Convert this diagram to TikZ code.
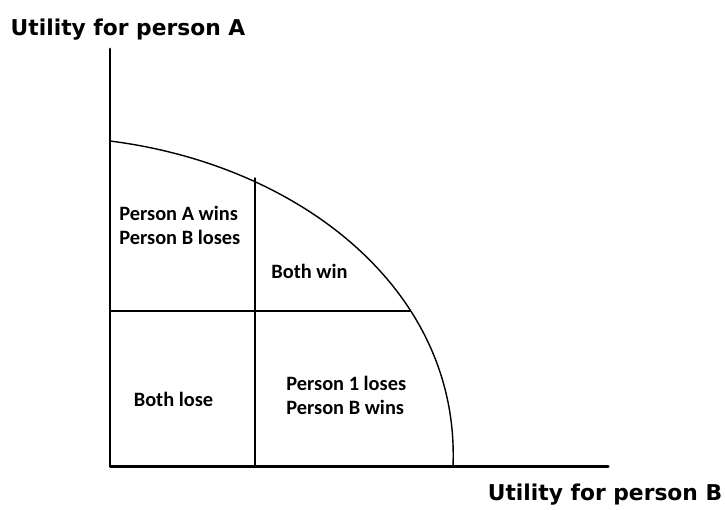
\documentclass[tikz,border=0pt]{standalone}
\usepackage{fontspec}
\setmainfont{Carlito}
\newfontfamily\axisfont{DejaVu Sans}
\begin{document}
\begin{tikzpicture}[scale=1, line join=round, line cap=round,
  axislabel/.style={font=\axisfont\bfseries\fontsize{12.4}{14}\selectfont, inner sep=0pt},
  region/.style={font=\bfseries\fontsize{11.6}{13.6}\selectfont, align=left, inner sep=0pt}]
\useasboundingbox (0,0) rectangle (14.5,10.18);
% axes
\draw[line width=1.7pt] (2.2,9.2) -- (2.2,0.86) -- (12.16,0.86);
% frontier
\draw[line width=0.8pt] (2.2,7.36) .. controls (6.0,6.88) and (9.2,4.38) .. (9.06,0.86);
% dividers
\draw[line width=0.8pt] (5.1,0.86) -- (5.1,6.62);
\draw[line width=0.8pt] (2.2,3.96) -- (8.2,3.96);
\node[axislabel] (ua) at (2.56,9.58) {Utility for person A};
\node[axislabel] (ub) at (12.1,0.28) {Utility for person B};
\node[region, anchor=west] (awin) at (2.38,5.68) {Person A wins\\Person B loses};
\node[region] (bothwin) at (6.19,4.76) {Both win};
\node[region] (bothlose) at (3.47,2.2) {Both lose};
\node[region, anchor=west] (bwin) at (5.72,2.28) {Person 1 loses\\Person B wins};
\end{tikzpicture}
\end{document}
